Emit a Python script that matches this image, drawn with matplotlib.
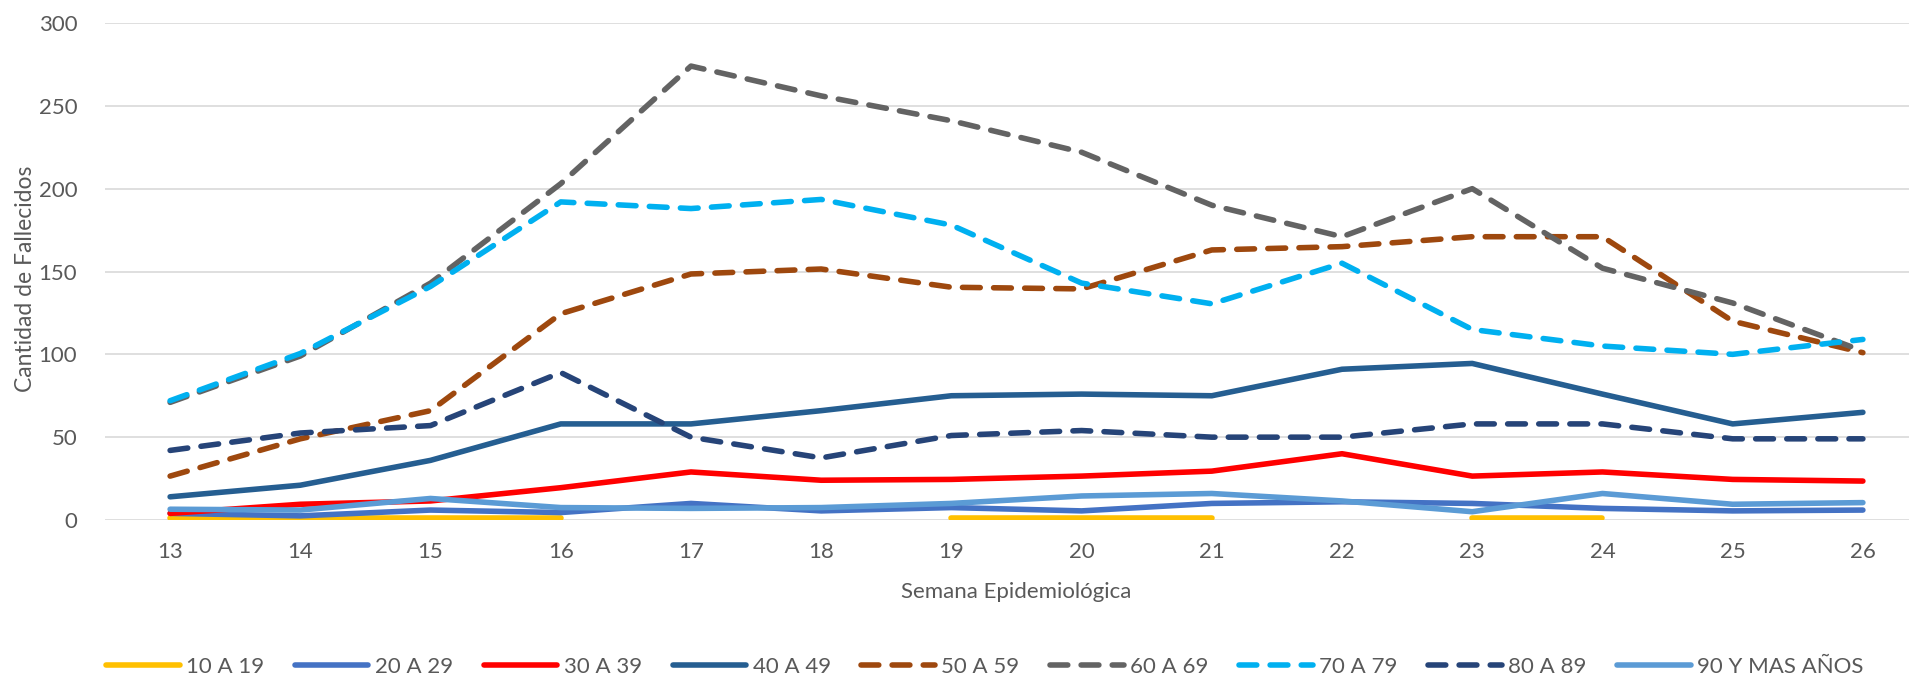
import numpy as np
import matplotlib.pyplot as plt

plt.rcParams['font.family'] = ['Lato', 'DejaVu Sans']

semanas = [13, 14, 15, 16, 17, 18, 19, 20, 21, 22, 23, 24, 25, 26]
nan = np.nan

# fallecidos por grupo de edad
g10_19 = [1, 1, 1, 1, nan, nan, 1, 1, 1, nan, 1, 1, nan, nan]
g20_29 = [4, 2.5, 6, 4.5, 10, 5.5, 7.5, 5.5, 10, 11, 10, 7, 5.5, 6]
g30_39 = [4, 9.5, 11.5, 19.5, 29, 24, 24.5, 26.5, 29.5, 40, 26.5, 29, 24.5, 23.5]
g40_49 = [14, 21, 36, 58, 58, 66, 75, 76, 75, 91, 94.5, 76, 58, 65]
g50_59 = [26.5, 49, 66, 124.5, 148.5, 151.5, 140.5, 139.5, 163, 165, 171, 171, 120, 101]
g60_69 = [71, 99, 143, 203, 274, 256, 241, 222, 190, 171, 200, 152, 131, 102]
g70_79 = [72, 100.5, 141, 192, 188, 193.5, 178, 143, 130.5, 155, 115, 105, 100, 109]
g80_89 = [42, 52.5, 57, 89, 50, 37.5, 51, 54, 50, 50, 58, 58, 49, 49]
g90_mas = [6.5, 6, 13, 7.5, 7, 7.5, 10, 14.5, 16, 11.5, 5, 16, 9.5, 10.5]

series = [
    ('10 A 19', g10_19, '#FFC000', '-'),
    ('20 A 29', g20_29, '#4472C4', '-'),
    ('30 A 39', g30_39, '#FF0000', '-'),
    ('40 A 49', g40_49, '#255E91', '-'),
    ('50 A 59', g50_59, '#9E480E', '--'),
    ('60 A 69', g60_69, '#636363', '--'),
    ('70 A 79', g70_79, '#00B0F0', '--'),
    ('80 A 89', g80_89, '#264478', '--'),
    ('90 Y MAS AÑOS', g90_mas, '#5B9BD5', '-'),
]

W, H = 1909, 679
fig = plt.figure(figsize=(W / 100, H / 100), dpi=100)
ax = fig.add_axes([105 / W, 1 - 520 / H, (1928 - 105) / W, (520 - 23) / H])

for name, vals, col, ls in series:
    if ls == '--':
        ax.plot(semanas, vals, color=col, lw=4, linestyle=(0, (3.2, 2.4)),
                dash_capstyle='round', solid_capstyle='round', label=name)
    else:
        ax.plot(semanas, vals, color=col, lw=4, solid_capstyle='round', label=name)

ax.set_xlim(12.5, 26.5)
ax.set_ylim(0, 300)
ax.set_xticks(semanas)
ax.set_yticks(range(0, 301, 50))
ax.grid(axis='y', color='#D9D9D9', lw=1.2)
ax.set_axisbelow(True)
for s in ax.spines.values():
    s.set_visible(False)
ax.tick_params(length=0, labelsize=16, colors='#595959', pad=16)
ax.tick_params(axis='y', pad=20)

ax.set_xlabel('Semana Epidemiológica', fontsize=16, color='#595959', labelpad=14)
ax.set_ylabel('Cantidad de Fallecidos', fontsize=16.5, color='#595959')
ax.yaxis.set_label_coords((36 - 105) / 1823, 0.485)

fig.legend(loc='center', bbox_to_anchor=(985 / W, 1 - 667 / H), ncol=9,
           frameon=False, fontsize=16, labelcolor='#595959',
           handlelength=3.3, handletextpad=0.3, columnspacing=1.38)

fig.savefig('out.png', dpi=100)
